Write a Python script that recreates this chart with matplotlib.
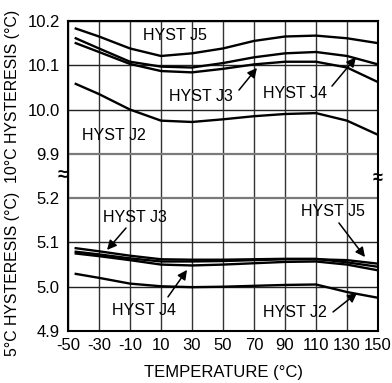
import numpy as np
import matplotlib.pyplot as plt

plt.rcParams["font.family"] = ["Liberation Sans", "DejaVu Sans"]
plt.rcParams["axes.unicode_minus"] = False

# temperature samples (degC)
temp = [-45, -30, -10, 10, 30, 50, 70, 90, 110, 130, 150]

# 10 degC hysteresis curves
hyst10_j5 = [10.183, 10.165, 10.138, 10.121, 10.127, 10.138, 10.155, 10.165, 10.167, 10.161, 10.150]
hyst10_j4 = [10.161, 10.138, 10.108, 10.097, 10.095, 10.105, 10.118, 10.127, 10.130, 10.121, 10.102]
hyst10_j3 = [10.150, 10.130, 10.103, 10.087, 10.084, 10.092, 10.102, 10.108, 10.108, 10.095, 10.062]
hyst10_j2 = [10.058, 10.035, 10.000, 9.975, 9.972, 9.978, 9.985, 9.990, 9.992, 9.975, 9.943]

# 5 degC hysteresis curves
hyst5_j3 = [5.087, 5.080, 5.070, 5.062, 5.061, 5.061, 5.062, 5.063, 5.063, 5.055, 5.045]
hyst5_j5 = [5.079, 5.073, 5.064, 5.057, 5.057, 5.058, 5.060, 5.062, 5.062, 5.060, 5.052]
hyst5_j4 = [5.075, 5.069, 5.060, 5.050, 5.048, 5.050, 5.053, 5.056, 5.057, 5.050, 5.037]
hyst5_j2 = [5.029, 5.020, 5.007, 5.001, 4.999, 5.000, 5.002, 5.004, 5.005, 4.988, 4.975]

x_ticks = list(range(-50, 151, 20))
y_tick_labels = ["4.9", "5.0", "5.1", "5.2", "9.9", "10.0", "10.1", "10.2"]

# upper (10 degC) scale is shifted down so 9.9 sits one grid step above 5.2
OFFSET = 4.6

fig = plt.figure(figsize=(3.92, 3.83), dpi=100)
ax = fig.add_axes([68 / 392, 52 / 383, 310 / 392, 310 / 383])

ax.set_xlim(-50, 150)
ax.set_ylim(4.9, 5.6)

# grid
for xt in x_ticks:
    ax.axvline(xt, color="#333333", lw=1.0, zorder=1)
for yv in [5.0, 5.1, 5.4, 5.5, 5.6]:
    ax.axhline(yv, color="#222222", lw=1.0, zorder=1)
for yv in [5.2, 5.3]:
    ax.axhline(yv, color="#7a7a7a", lw=1.6, zorder=1)

for series in [hyst10_j5, hyst10_j4, hyst10_j3, hyst10_j2]:
    ax.plot(temp, np.array(series) - OFFSET, color="black", lw=1.7, zorder=3)
for series in [hyst5_j3, hyst5_j5, hyst5_j4, hyst5_j2]:
    ax.plot(temp, series, color="black", lw=1.7, zorder=3)

ax.set_xticks(x_ticks)
ax.set_yticks(np.arange(4.9, 5.61, 0.1))
ax.set_yticklabels(y_tick_labels)
ax.tick_params(length=0, labelsize=12, pad=5)
ax.tick_params(axis="y", pad=6)
for side in ["left", "right", "bottom", "top"]:
    ax.spines[side].set_linewidth(1.5)
ax.set_xlabel("TEMPERATURE (\u00b0C)", fontsize=12, labelpad=9)

fig.text(13 / 392, 1 - 356 / 383, "5\u00b0C HYSTERESIS (\u00b0C)  10\u00b0C HYSTERESIS (\u00b0C)",
         rotation=90, ha="center", va="bottom", fontsize=11.4)

# axis break marks
ax.text(0, 5.25, "\u2248", transform=ax.get_yaxis_transform(), ha="right", va="center",
        fontsize=13, fontweight="bold")
ax.text(1, 5.245, "\u2248", transform=ax.get_yaxis_transform(), ha="center", va="center",
        fontsize=13, fontweight="bold")

tkw = dict(fontsize=11.5, ha="center", va="center", zorder=5)
akw = dict(arrowstyle="-|>", color="black", lw=1.1, mutation_scale=14, shrinkA=0, shrinkB=0)

ax.text(19, 10.168 - OFFSET, "HYST J5", **tkw)
ax.text(35.8, 10.03 - OFFSET, "HYST J3", **tkw)
ax.annotate("", xy=(71.9, 10.094 - OFFSET), xytext=(60.3, 10.044 - OFFSET), arrowprops=akw)
ax.text(96.5, 10.037 - OFFSET, "HYST J4", **tkw)
ax.annotate("", xy=(135.8, 10.118 - OFFSET), xytext=(120.3, 10.053 - OFFSET), arrowprops=akw)
ax.text(-20.3, 9.942 - OFFSET, "HYST J2", **tkw)

ax.text(-6.8, 5.157, "HYST J3", **tkw)
ax.annotate("", xy=(-24.8, 5.083), xytext=(-12.6, 5.1325), arrowprops=akw)
ax.text(-1, 4.947, "HYST J4", **tkw)
ax.annotate("", xy=(26.8, 5.038), xytext=(14.5, 4.977), arrowprops=akw)
ax.text(121, 5.169, "HYST J5", **tkw)
ax.annotate("", xy=(141.6, 5.067), xytext=(124.8, 5.144), arrowprops=akw)
ax.text(96.5, 4.941, "HYST J2", **tkw)
ax.annotate("", xy=(136.5, 4.986), xytext=(121, 4.943), arrowprops=akw)

fig.savefig("out.png", dpi=100)
